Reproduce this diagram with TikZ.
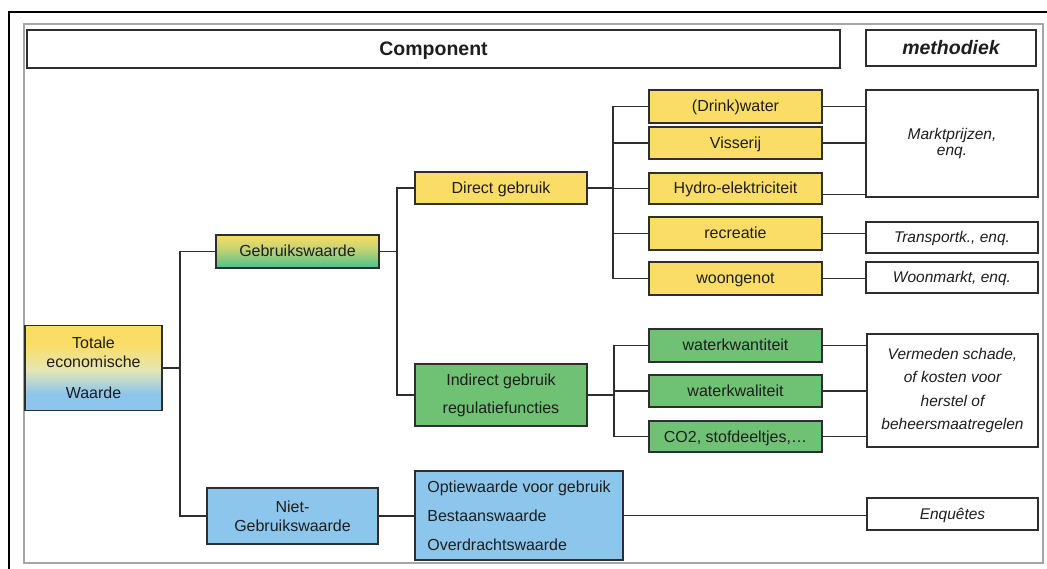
\documentclass[tikz,border=0pt]{standalone}
\usepackage{fontspec}
\setmainfont{Liberation Sans}
\definecolor{ylw}{HTML}{F9DD66}
\definecolor{grn}{HTML}{6FC173}
\definecolor{blu}{HTML}{8DC6EC}
\definecolor{teal}{HTML}{4FBF8E}
\definecolor{pale}{HTML}{E6E6B4}
\definecolor{edge}{HTML}{2E2E2E}
\definecolor{ink}{HTML}{1E1E1E}
\pgfdeclareverticalshading{totshade}{100bp}{color(0bp)=(blu); color(25bp)=(blu); color(35bp)=(blu); color(49bp)=(pale); color(64bp)=(ylw); color(75bp)=(ylw); color(100bp)=(ylw)}
\pgfdeclareverticalshading{gebrshade}{100bp}{color(0bp)=(teal); color(25bp)=(teal); color(55bp)=(ylw!70!teal); color(75bp)=(ylw); color(100bp)=(ylw)}
\begin{document}
\begin{tikzpicture}[x=1pt,y=-1pt,
  box/.style={draw=edge,line width=1.7pt,inner sep=0pt,align=center,text=ink,font=\fontsize{16}{19}\selectfont},
  sl/.style={text height=12pt,text depth=1pt},
  ybox/.style={box,sl,fill=ylw},
  gbox/.style={box,sl,fill=grn},
  bbox/.style={box,fill=blu},
  wbox/.style={box,sl,fill=white,font=\fontsize{15.5}{18}\selectfont\itshape},
  hbox/.style={draw=edge,line width=1.5pt,fill=white,inner sep=0pt,text=ink,text height=14pt,text depth=1pt},
  conn/.style={draw=edge,line width=1.6pt}]
\useasboundingbox (0,0) rectangle (1047,569);
% frames
\draw[black,line width=2.4pt] (9,569) -- (9,12) -- (1047,12);
\draw[gray!70,line width=1.3pt] (24,24) rectangle (1043,563);
% header
\node[hbox,minimum width=813,minimum height=38,font=\fontsize{19.5}{22}\selectfont\bfseries] (comp) at (433.5,49) {Component};
\node[hbox,minimum width=170,minimum height=36,font=\fontsize{19.5}{22}\selectfont\bfseries\itshape] (meth) at (951,48) {methodiek};
% level 1
\node[box,shading=totshade,minimum width=137,minimum height=85] (tot) at (93.5,368) {Totale\\economische\\[12pt]Waarde};
% level 2
\node[box,sl,shading=gebrshade,minimum width=163,minimum height=33] (gebr) at (297.5,251.5) {Gebruikswaarde};
\node[bbox,minimum width=171,minimum height=56] (niet) at (292.5,516) {Niet-\\Gebruikswaarde};
% level 3
\node[ybox,minimum width=172,minimum height=32] (direct) at (501,188) {Direct gebruik};
\node[box,fill=grn,minimum width=172,minimum height=62,font=\fontsize{16}{28}\selectfont] (indirect) at (501,395) {Indirect gebruik\\regulatiefuncties};
\node[bbox,minimum width=208,minimum height=89,align=left,font=\fontsize{16}{29}\selectfont] (optie) at (519,515.5) {Optiewaarde voor gebruik\\Bestaanswaarde\\Overdrachtswaarde};
% level 4
\node[ybox,minimum width=173,minimum height=33] (dw) at (735.5,106.5) {(Drink)water};
\node[ybox,minimum width=173,minimum height=32] (vis) at (735.5,143) {Visserij};
\node[ybox,minimum width=173,minimum height=31] (hydro) at (735.5,188.5) {Hydro-elektriciteit};
\node[ybox,minimum width=173,minimum height=33] (rec) at (735.5,233.5) {recreatie};
\node[ybox,minimum width=173,minimum height=33] (woon) at (735.5,278.5) {woongenot};
\node[gbox,minimum width=173,minimum height=33] (wkwan) at (735.5,345.5) {waterkwantiteit};
\node[gbox,minimum width=173,minimum height=32] (wkwal) at (735.5,391) {waterkwaliteit};
\node[gbox,minimum width=173,minimum height=31] (co2) at (735.5,436.5) {CO2, stofdeeltjes,\dots};
% methods
\node[box,fill=white,minimum width=172,minimum height=107,font=\fontsize{15.5}{15.5}\selectfont\itshape] (markt) at (952,143.5) {Marktprijzen,\\enq.};
\node[wbox,minimum width=172,minimum height=31] (trans) at (952,237.5) {Transportk., enq.};
\node[wbox,minimum width=172,minimum height=31] (woonm) at (952,277.5) {Woonmarkt, enq.};
\node[box,fill=white,minimum width=171,minimum height=113,font=\fontsize{15.5}{23.5}\selectfont\itshape] (verm) at (952.5,390.5) {Vermeden schade,\\of kosten voor\\herstel of\\beheersmaatregelen};
\node[wbox,minimum width=171,minimum height=32] (enq) at (952.5,514) {Enquêtes};
% trunks
\coordinate (t1) at (180,0);
\coordinate (t2) at (397,0);
\coordinate (t3) at (613,0);
\coordinate (t4) at (614,0);
% connectors
\draw[conn] (tot.east) -- (tot.east -| t1);
\draw[conn] (gebr.west) -- (gebr.west -| t1) -- (niet.west -| t1) -- (niet.west);
\draw[conn] (gebr.east) -- (gebr.east -| t2);
\draw[conn] (direct.west) -- (direct.west -| t2) -- (indirect.west -| t2) -- (indirect.west);
\draw[conn] (direct.east) -- (direct.east -| t3);
\draw[conn] (dw.west) -- (dw.west -| t3) -- (woon.west -| t3) -- (woon.west);
\draw[conn] (vis.west) -- (vis.west -| t3);
\draw[conn] (hydro.west) -- (hydro.west -| t3);
\draw[conn] (rec.west) -- (rec.west -| t3);
\draw[conn] (indirect.east) -- (indirect.east -| t4);
\draw[conn] (wkwan.west) -- (wkwan.west -| t4) -- (co2.west -| t4) -- (co2.west);
\draw[conn] (wkwal.west) -- (wkwal.west -| t4);
\draw[conn] (niet.east) -- (optie.west |- niet.east);
\draw[conn] (dw.east) -- (dw.east -| markt.west);
\draw[conn] (vis.east) -- (vis.east -| markt.west);
\draw[conn] ([yshift=-6]hydro.east) -- ([yshift=-6]hydro.east -| markt.west);
\draw[conn] (rec.east) -- (rec.east -| trans.west);
\draw[conn] (woon.east) -- (woon.east -| woonm.west);
\draw[conn] (wkwan.east) -- (wkwan.east -| verm.west);
\draw[conn] (wkwal.east) -- (wkwal.east -| verm.west);
\draw[conn] (co2.east) -- (co2.east -| verm.west);
\draw[conn] (optie.east) -- (optie.east -| enq.west);
\end{tikzpicture}
\end{document}
